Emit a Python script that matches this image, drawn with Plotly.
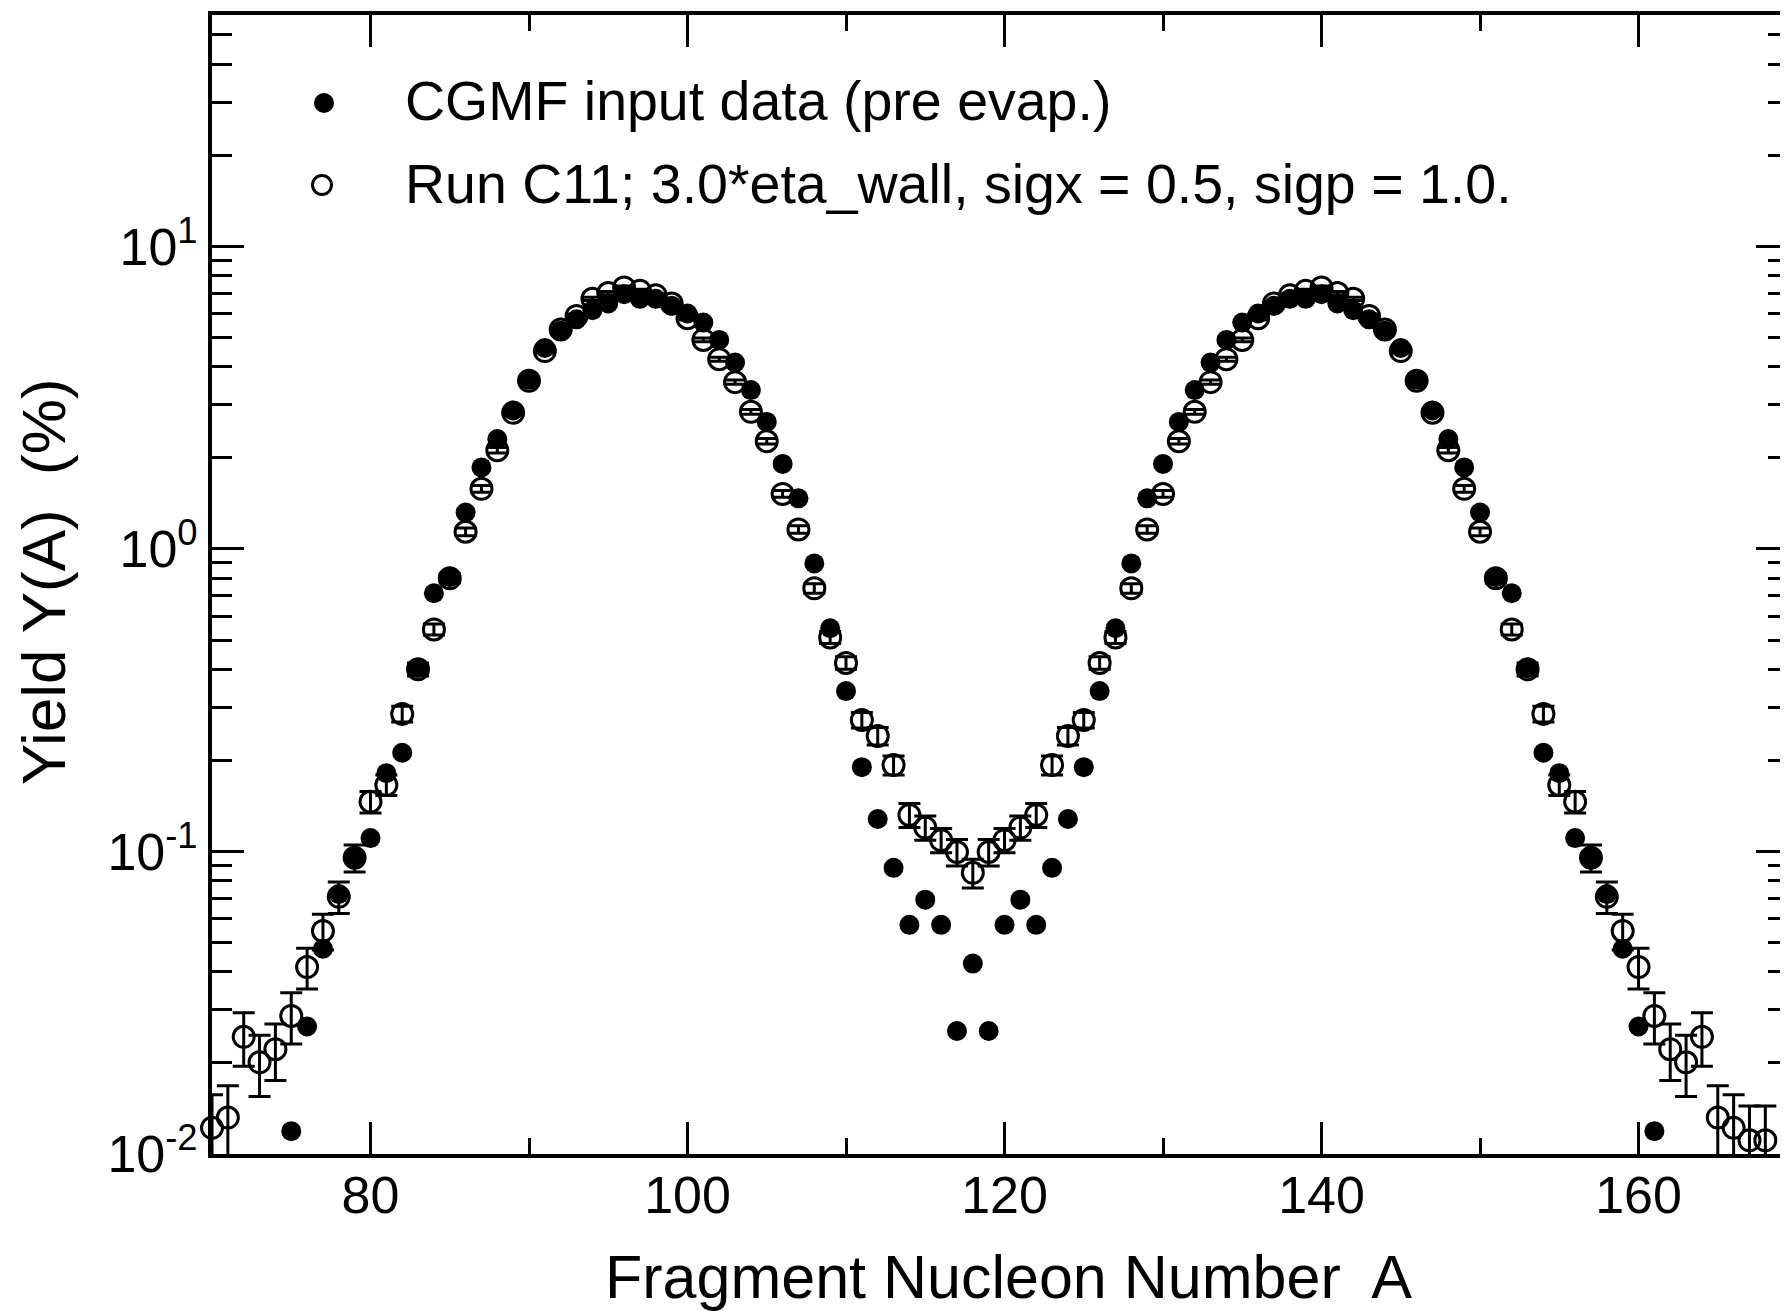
import plotly.graph_objects as go

# ---------------- data ----------------
A_cgmf = list(range(75, 162))
Y_cgmf = [0.0119, 0.0264, 0.0477, 0.0723, 0.0955, 0.1107, 0.1815, 0.212, 0.404, 0.714,
          0.807, 1.32, 1.86, 2.31, 2.87, 3.63, 4.62, 5.26, 5.74, 6.15,
          6.48, 6.95, 6.71, 6.71, 6.37, 6.0, 5.6, 4.91, 4.13, 3.35,
          2.63, 1.91, 1.47, 0.896, 0.547, 0.339, 0.19, 0.128, 0.0883, 0.0572,
          0.0693, 0.0572, 0.0255, 0.0426, 0.0255, 0.0572, 0.0693, 0.0572, 0.0883, 0.128,
          0.19, 0.339, 0.547, 0.896, 1.47, 1.91, 2.63, 3.35, 4.13, 4.91,
          5.6, 6.0, 6.37, 6.71, 6.71, 6.95, 6.48, 6.15, 5.74, 5.26,
          4.62, 3.63, 2.87, 2.31, 1.86, 1.32, 0.807, 0.714, 0.404, 0.212,
          0.1815, 0.1107, 0.0955, 0.0723, 0.0477, 0.0264, 0.0119]

A_run = list(range(70, 169))
Y_run = [0.0122, 0.0132, 0.0244, 0.0201, 0.0222, 0.0286, 0.0415, 0.0546, 0.0708, 0.0953,
         0.146, 0.166, 0.285, 0.40, 0.542, 0.80, 1.14, 1.58, 2.12, 2.82,
         3.6, 4.51, 5.31, 5.89, 6.71, 7.01, 7.32, 7.13, 6.89, 6.48,
         5.79, 4.91, 4.24, 3.56, 2.84, 2.27, 1.52, 1.16, 0.741, 0.51,
         0.42, 0.272, 0.241, 0.193, 0.132, 0.12, 0.109, 0.0996, 0.085,
         0.0996, 0.109, 0.12, 0.132, 0.193, 0.241, 0.272, 0.42, 0.51, 0.741,
         1.16, 1.52, 2.27, 2.84, 3.56, 4.24, 4.91, 5.79, 6.48, 6.89,
         7.13, 7.32, 7.01, 6.71, 5.89, 5.31, 4.51, 3.6, 2.82, 2.12,
         1.58, 1.14, 0.80, 0.542, 0.40, 0.285, 0.166, 0.146, 0.0953, 0.0708,
         0.0546, 0.0415, 0.0286, 0.0222, 0.0201, 0.0244, 0.0132, 0.0122, 0.0111, 0.0111]
E_run = [0.0035, 0.0036, 0.0049, 0.0046, 0.0047, 0.0055, 0.0064, 0.0074, 0.0084, 0.0098,
         0.012, 0.013, 0.017, 0.020, 0.023, 0.028, 0.034, 0.040, 0.046, 0.053,
         0.060, 0.067, 0.073, 0.077, 0.082, 0.084, 0.086, 0.084, 0.083, 0.080,
         0.076, 0.070, 0.065, 0.060, 0.053, 0.048, 0.039, 0.034, 0.027, 0.023,
         0.020, 0.016, 0.016, 0.014, 0.012, 0.011, 0.010, 0.010, 0.0093,
         0.010, 0.010, 0.011, 0.012, 0.014, 0.016, 0.016, 0.020, 0.023, 0.027,
         0.034, 0.039, 0.048, 0.053, 0.060, 0.065, 0.070, 0.076, 0.080, 0.083,
         0.084, 0.086, 0.084, 0.082, 0.077, 0.073, 0.067, 0.060, 0.053, 0.046,
         0.040, 0.034, 0.028, 0.023, 0.020, 0.017, 0.013, 0.012, 0.0098, 0.0084,
         0.0074, 0.0064, 0.0055, 0.0047, 0.0046, 0.0049, 0.0036, 0.0035, 0.0033, 0.0033]

x_ticks = [80, 100, 120, 140, 160]
x_minor = [90, 110, 130, 150]
y_ticks = [0.01, 0.1, 1, 10]
y_ticktext = ["10<sup>-2</sup>", "10<sup>-1</sup>", "10<sup>0</sup>", "10<sup>1</sup>"]
y_minor = [0.02, 0.03, 0.04, 0.05, 0.06, 0.07, 0.08, 0.09,
           0.2, 0.3, 0.4, 0.5, 0.6, 0.7, 0.8, 0.9,
           2, 3, 4, 5, 6, 7, 8, 9, 20, 30, 40, 50]

legend_labels = ["CGMF input data (pre evap.)",
                 "Run C11; 3.0*eta_wall, sigx = 0.5, sigp = 1.0."]

FONT = "Liberation Sans, Arial, Helvetica, sans-serif"
OFF = 8            # page body margin of the browser
W, H = 1788 - OFF, 1311 - OFF
ML, MT, MB = 212 - OFF, 15 - OFF, 157

fig = go.Figure()
# error bars (clipped to axes)
fig.add_trace(go.Scatter(
    x=A_run, y=Y_run, mode="markers",
    marker=dict(size=1, color="rgba(0,0,0,0)"),
    error_y=dict(type="data", array=E_run, visible=True, color="black",
                 thickness=3, width=11),
    cliponaxis=True, showlegend=False, hoverinfo="skip"))
# open circles
fig.add_trace(go.Scatter(
    x=A_run, y=Y_run, mode="markers",
    marker=dict(symbol="circle-open", size=21, color="black", line=dict(width=3, color="black")),
    cliponaxis=False, showlegend=False))
# filled circles
fig.add_trace(go.Scatter(
    x=A_cgmf, y=Y_cgmf, mode="markers",
    marker=dict(symbol="circle", size=20, color="black"),
    cliponaxis=False, showlegend=False))

axis_common = dict(showline=True, linewidth=4, linecolor="black", mirror="ticks",
                   ticks="inside", tickwidth=3, tickcolor="black",
                   showgrid=False, zeroline=False, automargin=False,
                   tickfont=dict(family=FONT, size=52, color="black"))

fig.update_xaxes(range=[70, 169.43], tickvals=x_ticks, ticklen=32,
                 minor=dict(tickvals=x_minor, ticklen=16, tickwidth=3, tickcolor="black",
                            ticks="inside", showgrid=False),
                 ticklabelstandoff=-7, **axis_common)
fig.update_yaxes(type="log", range=[-2, 1.765], tickvals=y_ticks, ticktext=y_ticktext,
                 ticklen=32,
                 minor=dict(tickvals=y_minor, ticklen=20, tickwidth=3, tickcolor="black",
                            ticks="inside", showgrid=False),
                 ticklabelstandoff=0, **axis_common)

pw = W - ML
ph = H - MT - MB

# positions below are given in screen pixels of the final picture
def px(x):
    return (x - OFF - ML) / pw

def py(y):
    return (H - MB - (y - OFF)) / ph

annotations = [
    dict(text="Fragment Nucleon Number  A", x=px(1008), y=py(1277), xref="paper", yref="paper",
         xanchor="center", yanchor="middle", showarrow=False,
         font=dict(family=FONT, size=61, color="black")),
    dict(text="Yield Y(A)  (%)", x=px(43), y=py(582), xref="paper", yref="paper",
         xanchor="center", yanchor="middle", showarrow=False, textangle=-90,
         font=dict(family=FONT, size=62, color="black")),
    dict(text=legend_labels[0], x=px(403), y=py(101), xref="paper", yref="paper",
         xanchor="left", yanchor="middle", showarrow=False,
         font=dict(family=FONT, size=55.5, color="black")),
    dict(text=legend_labels[1], x=px(403), y=py(184), xref="paper", yref="paper",
         xanchor="left", yanchor="middle", showarrow=False,
         font=dict(family=FONT, size=55.5, color="black")),
]

shapes = [
    dict(type="circle", xref="paper", yref="paper", xsizemode="pixel", ysizemode="pixel",
         xanchor=px(324), yanchor=py(103), x0=-10, x1=10, y0=-10, y1=10,
         fillcolor="black", line=dict(width=0)),
    dict(type="circle", xref="paper", yref="paper", xsizemode="pixel", ysizemode="pixel",
         xanchor=px(322), yanchor=py(185), x0=-9.5, x1=9.5, y0=-9.5, y1=9.5,
         fillcolor="rgba(0,0,0,0)", line=dict(width=3, color="black")),
]

fig.update_layout(width=W, height=H, margin=dict(l=ML, r=0, t=MT, b=MB, pad=0),
                  paper_bgcolor="white", plot_bgcolor="white",
                  annotations=annotations, shapes=shapes, showlegend=False)

fig.write_html("out.html")
